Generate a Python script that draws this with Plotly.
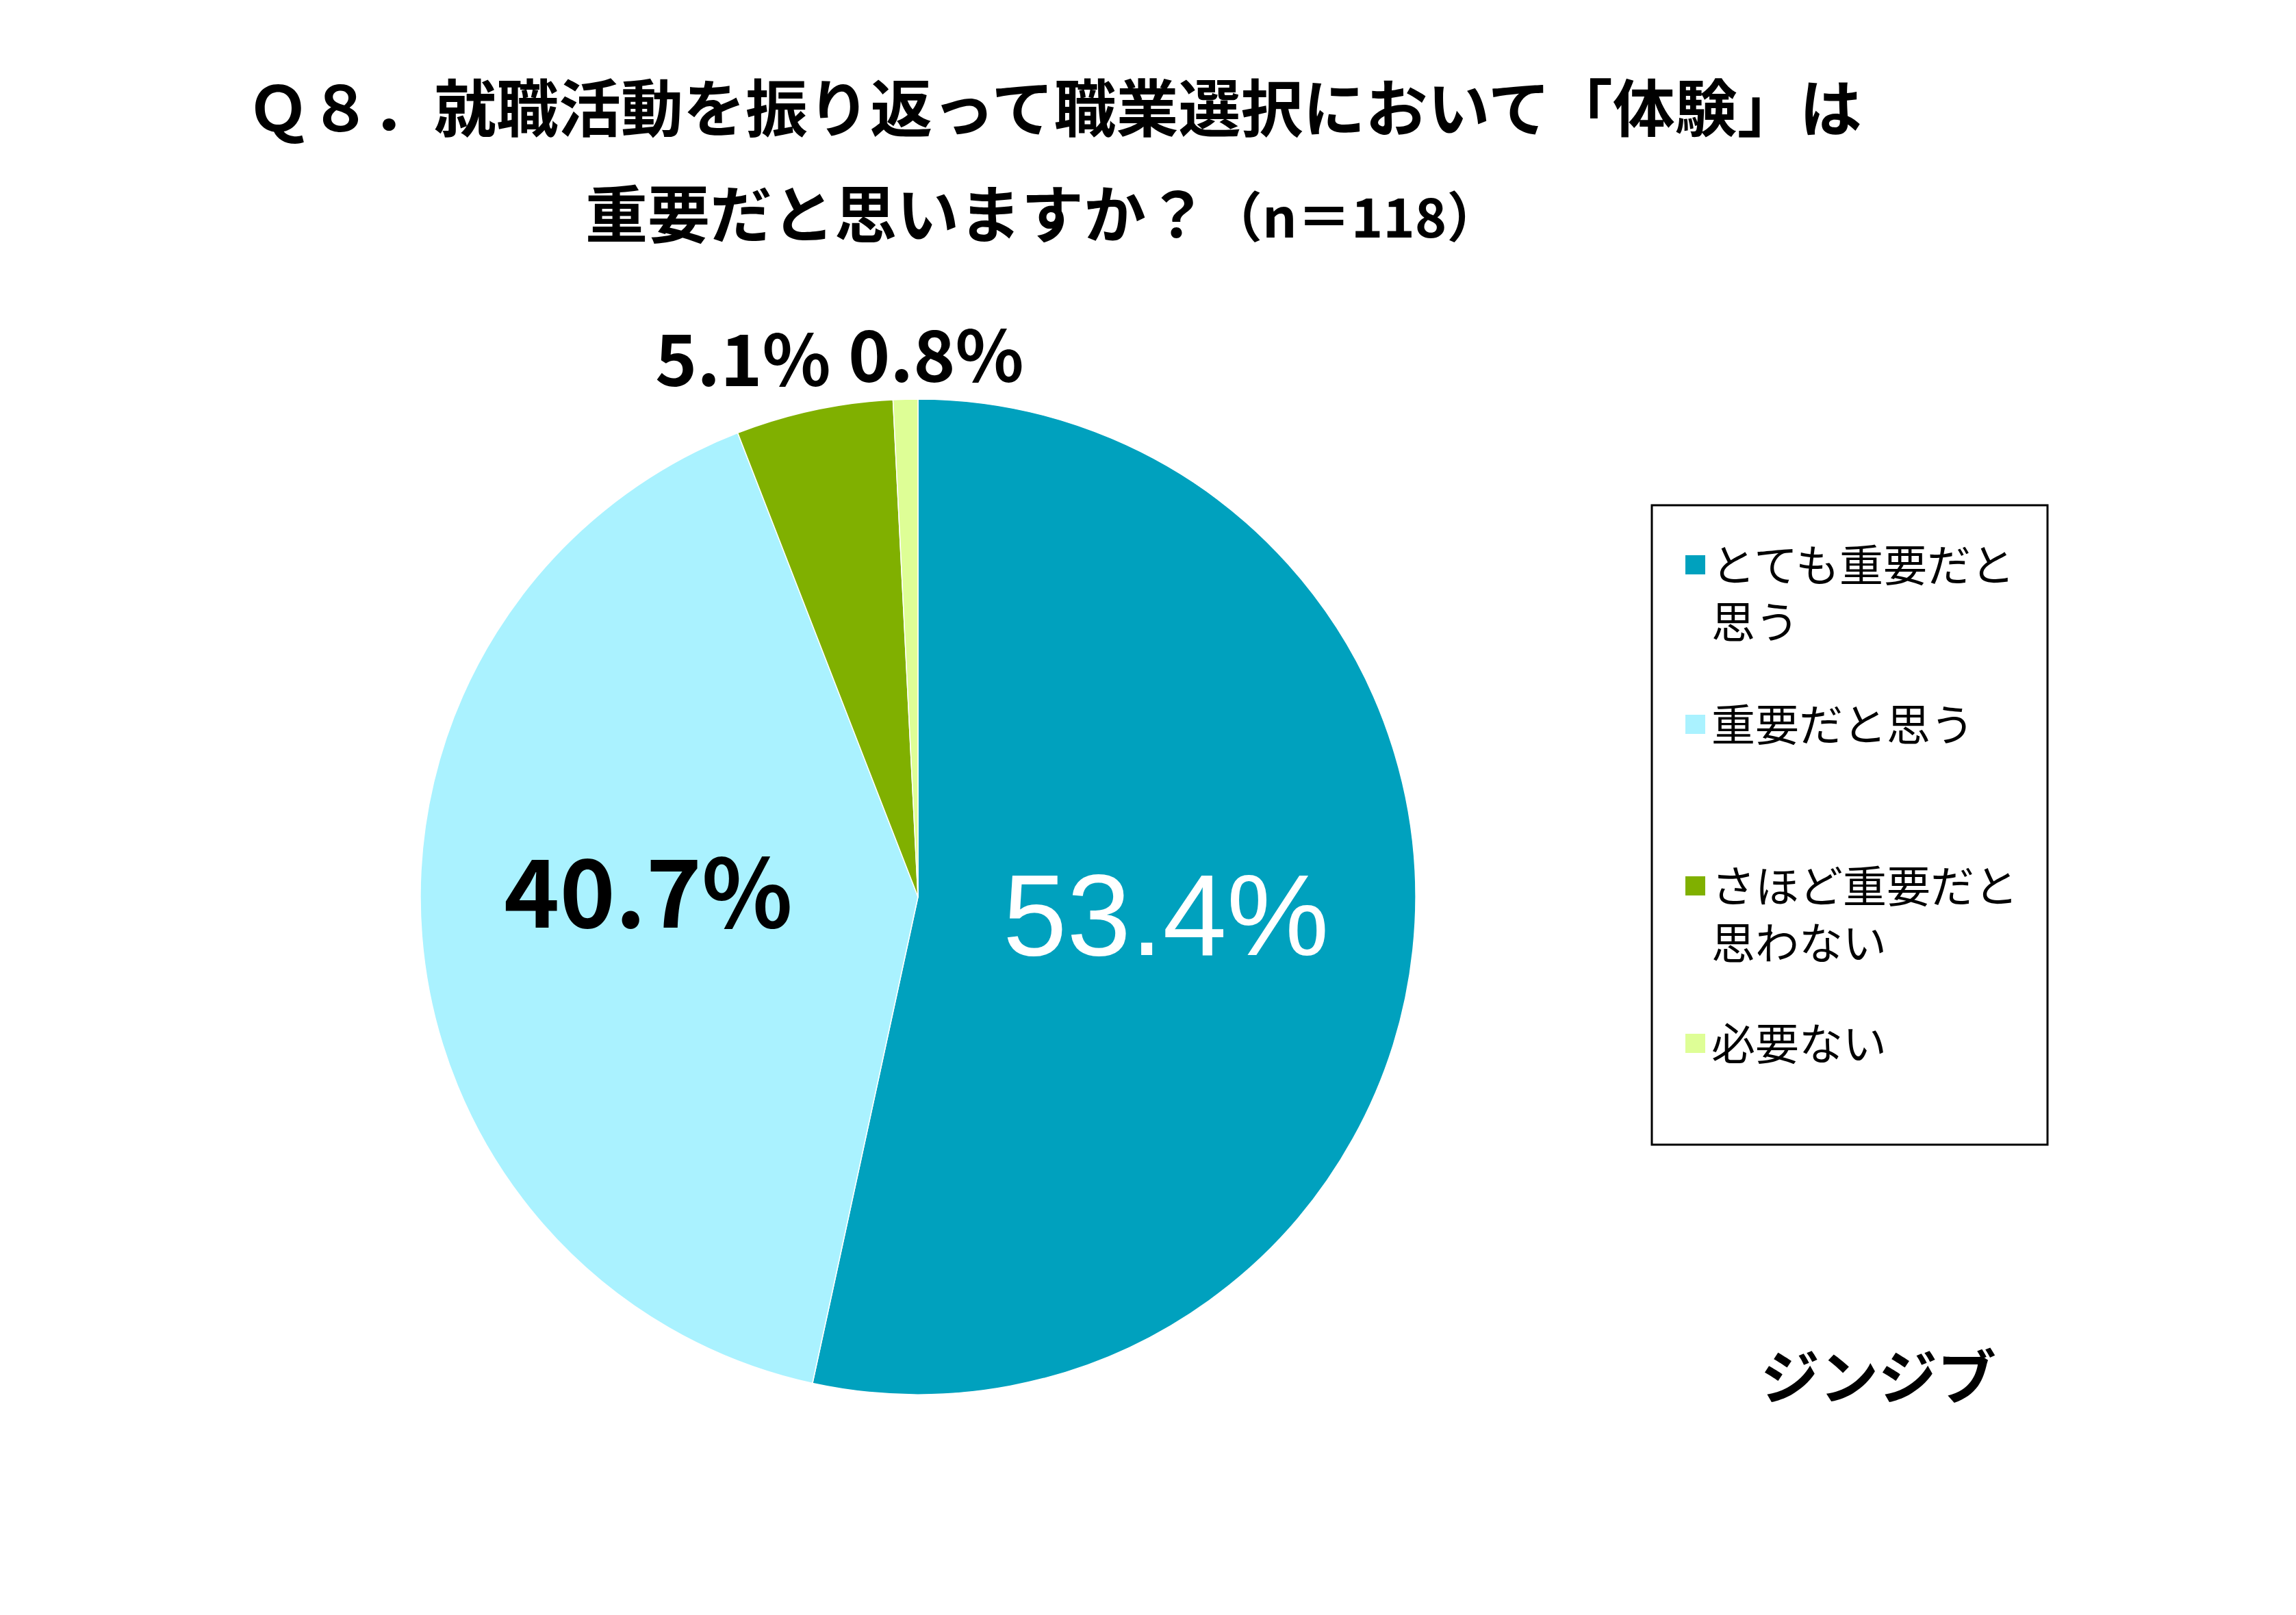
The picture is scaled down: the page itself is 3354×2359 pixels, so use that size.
import plotly.graph_objects as go

W, H = 3354, 2359

categories = ["とても重要だと思う", "重要だと思う", "さほど重要だと思わない", "必要ない"]
legend_labels = ["とても重要だと<br>思う", "重要だと思う", "さほど重要だと<br>思わない", "必要ない"]
values = [53.4, 40.7, 5.1, 0.8]
colors = ["#00A1BE", "#AAF2FF", "#80B000", "#DEFE96"]

title_line1 = "Ｑ８．就職活動を振り返って職業選択において「体験」は"
title_line2 = "重要だと思いますか？"
title_n = "（n＝118）"
brand = "ジンジブ"

CJK = "Noto Sans CJK JP"
OFF = 8  # page body margin offset


def px(x):
    return (x - OFF) / W


def py(y):
    return 1 - (y - OFF) / H


# pie geometry (pixels)
cx, cy, r = 1341, 1310, 727

fig = go.Figure()
fig.add_trace(go.Pie(
    labels=categories,
    values=values,
    sort=False,
    direction="clockwise",
    rotation=0,
    marker=dict(colors=colors, line=dict(color="white", width=1.5)),
    textinfo="none",
    hoverinfo="label+percent",
    domain=dict(x=[px(cx - r), px(cx + r)], y=[py(cy + r), py(cy - r)]),
    showlegend=False,
))

annotations = []

# title
annotations.append(dict(
    x=px(1540), y=py(152), xref="paper", yref="paper", xanchor="center", yanchor="middle",
    text=title_line1, showarrow=False,
    font=dict(family=CJK, size=91, color="black", weight=700)))
annotations.append(dict(
    x=px(1524), y=py(307), xref="paper", yref="paper", xanchor="center", yanchor="middle",
    text=title_line2 + "<span style='font-size:79px'>" + title_n + "</span>", showarrow=False,
    font=dict(family=CJK, size=91, color="black", weight=700)))

# value labels
label_specs = [
    (1703, 1337, "Liberation Sans", 168, "white", 400),
    (947, 1295, CJK, 138, "black", 700),
    (1085, 518, CJK, 104, "black", 700),
    (1367, 512, CJK, 104, "black", 700),
]
for v, (lx, ly, fam, sz, col, wt) in zip(values, label_specs):
    annotations.append(dict(
        x=px(lx), y=py(ly), xref="paper", yref="paper", xanchor="center", yanchor="middle",
        text=f"{v:.1f}%", showarrow=False,
        font=dict(family=fam, size=sz, color=col, weight=wt)))

# manual legend
shapes = [dict(type="rect", xref="paper", yref="paper",
               x0=px(2413), x1=px(2991), y0=py(1672), y1=py(738),
               line=dict(color="black", width=3), fillcolor="white", layer="below")]
item_y = [825, 1058, 1294, 1524]
for lab, col, yy in zip(legend_labels, colors, item_y):
    shapes.append(dict(type="rect", xref="paper", yref="paper",
                       x0=px(2462), x1=px(2491), y0=py(yy + 14), y1=py(yy - 14),
                       line=dict(width=0), fillcolor=col))
    annotations.append(dict(
        x=px(2498), y=py(yy - 52), xref="paper", yref="paper", xanchor="left", yanchor="top",
        align="left", text=lab, showarrow=False,
        font=dict(family=CJK, size=64, color="black")))

# brand
annotations.append(dict(
    x=px(2744), y=py(2006), xref="paper", yref="paper", xanchor="center", yanchor="middle",
    text=brand, showarrow=False,
    font=dict(family=CJK, size=86, color="black", weight=700)))

fig.update_layout(
    width=W, height=H,
    margin=dict(l=0, r=0, t=0, b=0),
    paper_bgcolor="white", plot_bgcolor="white",
    annotations=annotations, shapes=shapes,
    showlegend=False,
)

fig.write_html("out.html")
